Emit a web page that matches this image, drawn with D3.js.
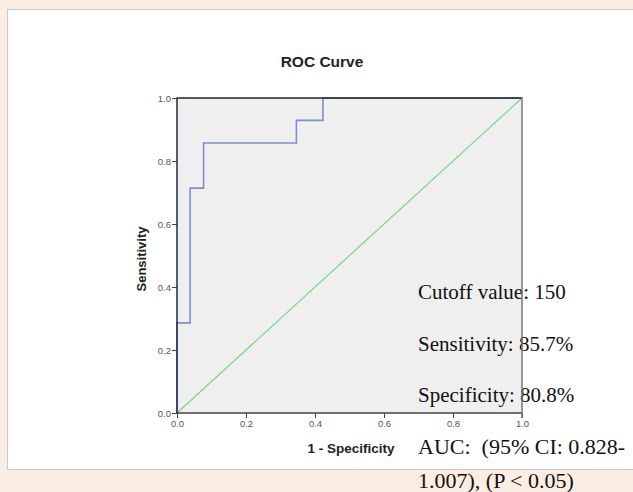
<!DOCTYPE html>
<html>
<head>
<meta charset="utf-8">
<script src="https://cdn.jsdelivr.net/npm/d3@7"></script>
<style>
  html, body { margin: 0; padding: 0; background: #fcede2; }
  svg { display: block; }
</style>
</head>
<body>
<svg id="chart" width="633" height="492"></svg>
<script>
// ROC step points (1 - specificity, sensitivity)
const fpr = [0, 0, 0.038, 0.038, 0.077, 0.077, 0.346, 0.346, 0.423, 0.423, 1];
const tpr = [0, 0.286, 0.286, 0.714, 0.714, 0.857, 0.857, 0.929, 0.929, 1, 1];
const refLine = [0, 1];
const tickValues = [0, 0.2, 0.4, 0.6, 0.8, 1.0];
const notes = ["Cutoff value: 150", "Sensitivity: 85.7%", "Specificity: 80.8%"];
const aucNotes = ["AUC:  (95% CI: 0.828-", "1.007), (P < 0.05)"];

const svg = d3.select('#chart');
const w = 633;
const h = 492;

// white panel
svg.append('rect')
  .attr('x', 7.5).attr('y', 9.5)
  .attr('width', w).attr('height', 460)
  .attr('fill', '#fff')
  .attr('stroke', '#cfc8c2');

const plotL = 177, plotR = 522, plotT = 98, plotB = 413;
const x = d3.scaleLinear().domain([0, 1]).range([plotL, plotR]);
const y = d3.scaleLinear().domain([0, 1]).range([plotB, plotT]);

svg.append('rect')
  .attr('x', plotL).attr('y', plotT)
  .attr('width', plotR - plotL).attr('height', plotB - plotT)
  .attr('fill', '#efefef');

svg.append('text')
  .attr('x', 322).attr('y', 67)
  .attr('text-anchor', 'middle')
  .style('font', 'bold 15.5px "Liberation Sans", Arial, sans-serif')
  .attr('fill', '#222')
  .text('ROC Curve');

// reference diagonal
svg.append('line')
  .attr('x1', x(refLine[0])).attr('y1', y(refLine[0]))
  .attr('x2', x(refLine[1])).attr('y2', y(refLine[1]))
  .attr('stroke', '#78d67e')
  .attr('stroke-width', 1.2);

const line = d3.line()
  .x(d => x(d[0]))
  .y(d => y(d[1]));

svg.append('path')
  .datum(fpr.map((v, i) => [v, tpr[i]]))
  .attr('d', line)
  .attr('fill', 'none')
  .attr('stroke', '#7d8fcf')
  .attr('stroke-width', 1.6);

const tickFont = '9.5px "Liberation Sans", Arial, sans-serif';

const yAxis = svg.append('g')
  .attr('transform', `translate(${plotL},0)`)
  .call(d3.axisLeft(y).tickValues(tickValues).tickFormat(d3.format('.1f')).tickSize(5).tickPadding(1));
const xAxis = svg.append('g')
  .attr('transform', `translate(0,${plotB})`)
  .call(d3.axisBottom(x).tickValues(tickValues).tickFormat(d3.format('.1f')).tickSize(5).tickPadding(2));

[xAxis, yAxis].forEach(g => {
  g.select('.domain').remove();
  g.selectAll('line').attr('stroke', '#444');
  g.selectAll('text').style('font', tickFont).attr('fill', '#555');
});

// frame
svg.append('line').attr('x1', plotL - 0.5).attr('x2', plotR).attr('y1', plotT).attr('y2', plotT).attr('stroke', '#222').attr('stroke-width', 1.5);
svg.append('line').attr('x1', plotL).attr('x2', plotL).attr('y1', plotT).attr('y2', plotB).attr('stroke', '#1f2a44').attr('stroke-width', 1.5);
svg.append('line').attr('x1', plotL).attr('x2', plotR).attr('y1', plotB).attr('y2', plotB).attr('stroke', '#444').attr('stroke-width', 1.5);

// axis titles
svg.append('text')
  .attr('transform', `translate(146,259) rotate(-90)`)
  .attr('text-anchor', 'middle')
  .style('font', 'bold 13px "Liberation Sans", Arial, sans-serif')
  .attr('fill', '#222')
  .text('Sensitivity');

svg.append('text')
  .attr('x', 351).attr('y', 453)
  .attr('text-anchor', 'middle')
  .style('font', 'bold 13.5px "Liberation Sans", Arial, sans-serif')
  .attr('fill', '#222')
  .text('1 - Specificity');

// annotation text
const noteY = [299, 351, 402];
svg.selectAll('text.note')
  .data(notes)
  .enter()
  .append('text')
  .attr('class', 'note')
  .attr('x', 418)
  .attr('y', (d, i) => noteY[i])
  .style('font', '21px "Liberation Serif", "Times New Roman", serif')
  .attr('fill', '#111')
  .text(d => d);

const aucY = [454, 488];
svg.selectAll('text.auc')
  .data(aucNotes)
  .enter()
  .append('text')
  .attr('class', 'auc')
  .attr('x', 418)
  .attr('y', (d, i) => aucY[i])
  .style('white-space', 'pre')
  .style('font', '22px "Liberation Serif", "Times New Roman", serif')
  .attr('fill', '#111')
  .text(d => d);

// right border on top of text
svg.append('line').attr('x1', plotR).attr('x2', plotR).attr('y1', plotT - 0.75).attr('y2', plotB + 5).attr('stroke', '#777').attr('stroke-width', 1.5);
</script>
</body>
</html>
